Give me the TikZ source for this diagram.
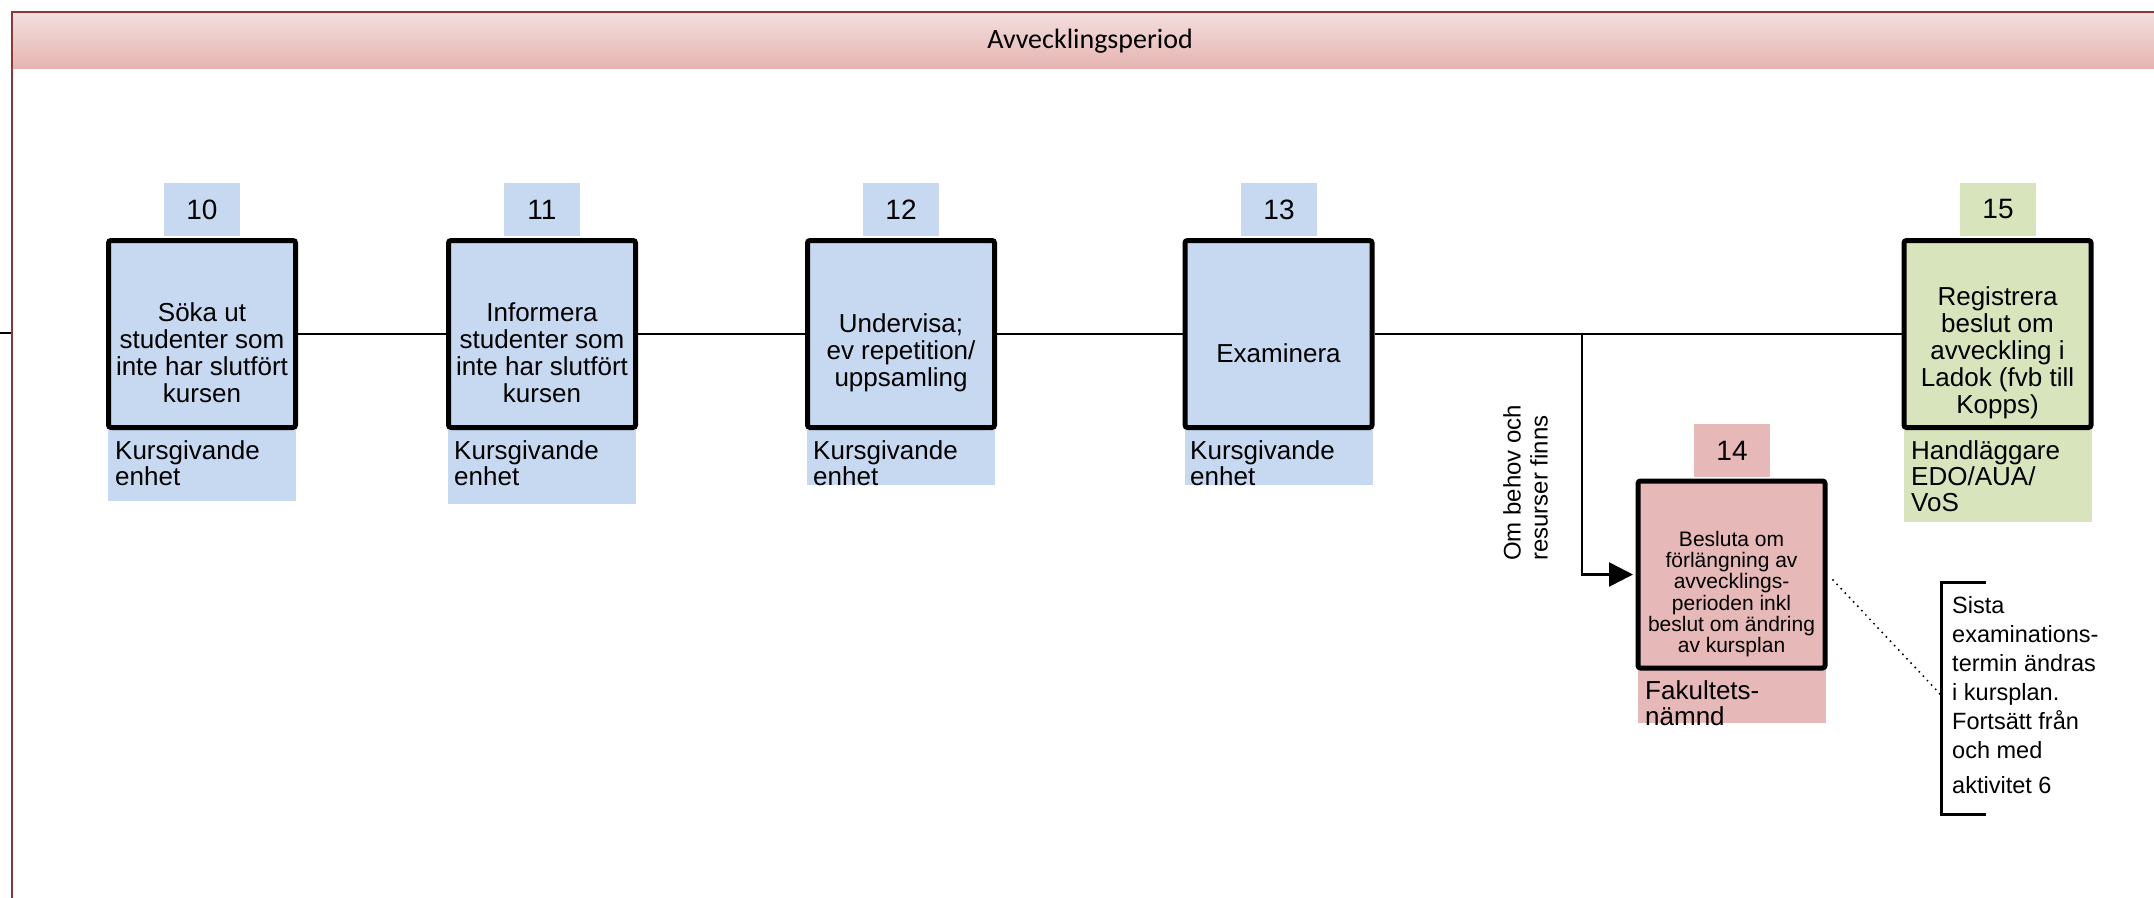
\documentclass[tikz,border=0pt]{standalone}
\usepackage{fontspec}
\setmainfont{Liberation Sans}
\newfontfamily\titlefont{Carlito}
\usetikzlibrary{arrows.meta}
\definecolor{bluef}{HTML}{C6D9F0}
\definecolor{pinkf}{HTML}{E6B8B7}
\definecolor{greenf}{HTML}{D7E4BC}
\definecolor{framec}{HTML}{8C3836}
\definecolor{hdrtop}{HTML}{F2DFDE}
\definecolor{hdrbot}{HTML}{E6B4B1}
\tikzset{
 procbox/.style={draw=black, line width=5pt, rounded corners=2.5pt, minimum width=187pt, minimum height=187pt, inner sep=0pt},
 numtab/.style={minimum width=76pt, minimum height=53pt, inner sep=0pt, font=\fontsize{28}{30}\selectfont},
 rolebox/.style={minimum width=188pt, inner sep=0pt, anchor=north},
 roletext/.style={anchor=north west, inner sep=0pt, align=left, font=\fontsize{26}{26}\selectfont},
 boxtext/.style={align=center, inner sep=0pt, font=\fontsize{26}{27}\selectfont},
 smalltext/.style={align=center, inner sep=0pt, font=\fontsize{21}{21.3}\selectfont},
 conn/.style={line width=2.5pt, draw=black},
}
\begin{document}
\begin{tikzpicture}[x=1pt,y=-1pt]
\useasboundingbox (0,0) rectangle (2154,897);
\clip (0,0) rectangle (2154,897);
% frame and header
\shade[top color=hdrtop, bottom color=hdrbot] (12,12) rectangle (2170,68);
\node[font=\titlefont\fontsize{28}{30}\selectfont, inner sep=0pt] (title) at (1090,41) {Avvecklingsperiod};
% stub
\coordinate (stubA) at (0,333);
\coordinate (stubB) at (12,333);
\draw[conn] (stubA) -- (stubB);
\draw[framec, line width=2pt] (12,910) -- (12,12) -- (2170,12);

% role labels
\node[rolebox, fill=bluef, minimum height=71pt] (l10) at (202,430) {};
\node[rolebox, fill=bluef, minimum height=74pt] (l11) at (542,430) {};
\node[rolebox, fill=bluef, minimum height=55pt] (l12) at (901,430) {};
\node[rolebox, fill=bluef, minimum height=55pt] (l13) at (1278.5,430) {};
\node[rolebox, fill=greenf, minimum height=92pt] (l15) at (1997.5,430) {};
\node[rolebox, fill=pinkf, minimum height=53pt] (l14) at (1731.5,670) {};
\node[roletext] (r10) at (115,440) {Kursgivande\\enhet};
\node[roletext] (r11) at (454,440) {Kursgivande\\enhet};
\node[roletext] (r12) at (813,440) {Kursgivande\\enhet};
\node[roletext] (r13) at (1190,440) {Kursgivande\\enhet};
\node[roletext] (r15) at (1911,440) {Handläggare\\EDO/AUA/\\VoS};
\node[roletext] (r14) at (1645,680) {Fakultets-\\nämnd};

% number tabs
\node[numtab, fill=bluef] (n10) at (202,209.5) {10};
\node[numtab, fill=bluef] (n11) at (542,209.5) {11};
\node[numtab, fill=bluef] (n12) at (901,209.5) {12};
\node[numtab, fill=bluef] (n13) at (1279,209.5) {13};
\node[numtab, fill=greenf] (n15) at (1998,209.5) {15};
\node[numtab, fill=pinkf] (n14) at (1732,450.5) {14};

% process boxes
\node[procbox, fill=bluef] (b10) at (202,334) {};
\node[procbox, fill=bluef] (b11) at (542,334) {};
\node[procbox, fill=bluef] (b12) at (901,334) {};
\node[procbox, fill=bluef] (b13) at (1278.5,334) {};
\node[procbox, fill=greenf] (b15) at (1997.5,334) {};
\node[procbox, fill=pinkf] (b14) at (1731.5,574.5) {};

\node[boxtext] (t10) at (202,353) {Söka ut\\studenter som\\inte har slutfört\\kursen};
\node[boxtext] (t11) at (542,353) {Informera\\studenter som\\inte har slutfört\\kursen};
\node[boxtext] (t12) at (901,353) {Undervisa;\\ev repetition/\\uppsamling};
\node[boxtext] (t13) at (1278.5,353) {Examinera};
\node[boxtext] (t15) at (1997.5,353) {Registrera\\beslut om\\avveckling i\\Ladok (fvb till\\Kopps)};
\node[smalltext] (t14) at (1731.5,594) {Besluta om\\förlängning av\\avvecklings-\\perioden inkl\\beslut om ändring\\av kursplan};

% connectors
\draw[conn] (b10.east) -- (b11.west);
\draw[conn] (b11.east) -- (b12.west);
\draw[conn] (b12.east) -- (b13.west);
\draw[conn] (b13.east) -- (b15.west);
\coordinate (junc) at (1582,334);
\draw[conn, shorten >=2.5pt, -{Triangle[length=24pt,width=24pt]}] (junc) |- (b14.west);
\node[rotate=90, anchor=north west, inner sep=0pt, align=left, font=\fontsize{24}{27}\selectfont] (cond) at (1503,561) {Om behov och\\resurser finns};

% annotation
\coordinate (brA) at (1986,582);
\coordinate (brB) at (1941,582);
\coordinate (brC) at (1941,814);
\coordinate (brD) at (1986,814);
\coordinate (brM) at (1941,695);
\coordinate (dS) at (1833,580);
\draw[line width=3pt] (brA) -- (brB) -- (brC) -- (brD);
\draw[line width=2.2pt, line cap=round, dash pattern=on 0pt off 6pt] (dS) -- (brM);
\node[anchor=north west, inner sep=0pt, align=left, font=\fontsize{23.5}{29}\selectfont] (note) at (1952,596) {Sista\\examinations-\\termin ändras\\i kursplan.\\Fortsätt från\\och med\\[6pt]aktivitet 6};
\end{tikzpicture}
\end{document}
